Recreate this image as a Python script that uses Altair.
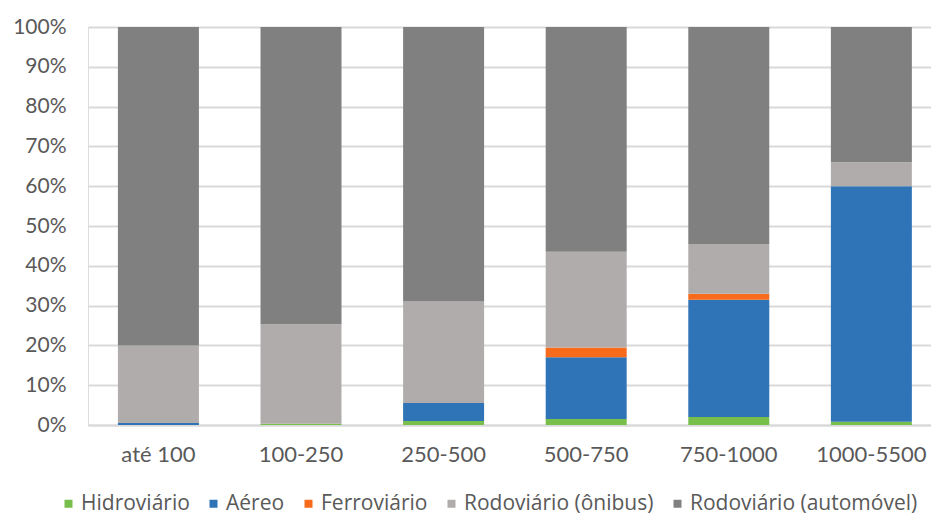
import altair as alt
import pandas as pd

categories = ["até 100", "100-250", "250-500", "500-750", "750-1000", "1000-5500"]
modes = ["Hidroviário", "Aéreo", "Ferroviário", "Rodoviário (ônibus)", "Rodoviário (automóvel)"]
colors = ["#77BE4B", "#2F74B7", "#F86A1C", "#B0ACAB", "#808080"]

hidroviario = [0.0, 0.3, 1.0, 1.5, 2.0, 0.8]
aereo = [0.5, 0.0, 4.5, 15.5, 29.5, 59.2]
ferroviario = [0.0, 0.0, 0.0, 2.5, 1.5, 0.0]
onibus = [19.5, 25.0, 25.5, 24.0, 12.5, 6.0]
automovel = [80.0, 74.7, 69.0, 56.5, 54.5, 34.0]

series = [hidroviario, aereo, ferroviario, onibus, automovel]
rows = []
for mi, (m, vals) in enumerate(zip(modes, series)):
    for c, v in zip(categories, vals):
        rows.append({"faixa": c, "modo": m, "ordem": mi, "valor": v})
df = pd.DataFrame(rows)

FONT = "Lato"
LFONT = "Open Sans"
TXT = "#595959"

chart = alt.Chart(df).mark_bar().encode(
    x=alt.X("faixa:N", sort=categories, title=None,
            scale=alt.Scale(paddingInner=0.432, paddingOuter=0.172, align=0.61),
            axis=alt.Axis(labelAngle=0, labelFont=FONT, labelFontSize=22, labelColor=TXT,
                          labelPadding=19, ticks=False, domain=True, domainColor="#d9d9d9",
                          domainWidth=2, labelBaseline="top")),
    y=alt.Y("valor:Q", stack="normalize", title=None,
            scale=alt.Scale(domain=[0, 1], nice=False),
            axis=alt.Axis(format=".0%", values=[i / 10 for i in range(11)],
                          labelFont=FONT, labelFontSize=21, labelColor=TXT,
                          labelPadding=22, ticks=False, domain=False,
                          gridColor="#d9d9d9", gridWidth=2)),
    color=alt.Color("modo:N", sort=modes, title=None,
                    scale=alt.Scale(domain=modes, range=colors),
                    legend=alt.Legend(orient="none", direction="horizontal",
                                      legendX=-30, legendY=466,
                                      symbolType="square", symbolSize=64,
                                      symbolStrokeWidth=0, labelLimit=0,
                                      labelFont=LFONT, labelFontSize=21, labelColor=TXT,
                                      labelOffset=2, columnPadding=13)),
    order=alt.Order("ordem:Q", sort="ascending"),
).properties(
    width=843, height=398,
    autosize=alt.AutoSizeParams(type="none"),
    padding={"left": 88, "top": 27, "right": 0, "bottom": 98},
).configure_view(stroke=None).configure(background="white")

chart.save("out.html", embed_options={"renderer": "svg", "actions": False})
